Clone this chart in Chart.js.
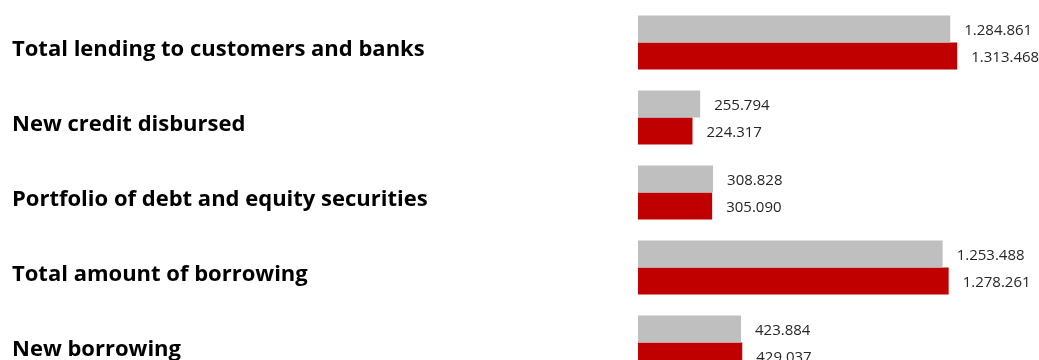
<!DOCTYPE html>
<html>
<head>
<meta charset="utf-8">
<script src="https://cdn.jsdelivr.net/npm/chart.js@4.4.1/dist/chart.umd.min.js"></script>
<style>
  html, body { margin: 0; padding: 0; background: #fff; overflow: hidden; }
  #wrap { position: relative; width: 1039px; height: 380px; }
</style>
</head>
<body>
<div id="wrap"><canvas id="kpi-chart"></canvas></div>
<script>
const categories = [
    'Total lending to customers and banks',
    'New credit disbursed',
    'Portfolio of debt and equity securities',
    'Total amount of borrowing',
    'New borrowing'
];
const previousYear = [1284861, 255794, 308828, 1253488, 423884];
const currentYear = [1313468, 224317, 305090, 1278261, 429037];

// european style thousands separator
const fmt = v => v.toString().replace(/\B(?=(\d{3})+(?!\d))/g, '.');

const valueLabels = {
    id: 'valueLabels',
    afterDatasetsDraw(chart) {
        const ctx = chart.ctx;
        ctx.save();
        ctx.font = '15px "Open Sans"';
        ctx.fillStyle = '#262626';
        ctx.textAlign = 'left';
        ctx.textBaseline = 'middle';
        chart.data.datasets.forEach((ds, i) => {
            chart.getDatasetMeta(i).data.forEach((bar, j) => {
                ctx.fillText(fmt(ds.data[j]), bar.x + 14, bar.y + 2);
            });
        });
        ctx.restore();
    }
};

const ctx = document.getElementById('kpi-chart');

new Chart(ctx, {
    type: 'bar',
    data: {
        labels: categories,
        datasets: [{
            label: 'Previous',
            data: previousYear,
            backgroundColor: '#BFBFBF',
            barPercentage: 1,
            categoryPercentage: 0.72
        }, {
            label: 'Current',
            data: currentYear,
            backgroundColor: '#C00000',
            barPercentage: 1,
            categoryPercentage: 0.72
        }]
    },
    options: {
        indexAxis: 'y',
        responsive: true,
        maintainAspectRatio: false,
        animation: false,
        layout: {
            padding: { top: 5, right: 0, bottom: 0, left: 12 }
        },
        plugins: {
            legend: { display: false },
            tooltip: { enabled: false }
        },
        scales: {
            x: {
                display: false,
                min: 0,
                max: 1650000
            },
            y: {
                grid: { display: false, drawTicks: false },
                border: { display: false },
                afterFit(scale) {
                    scale.width = 626;
                    scale.paddingTop = 0;
                    scale.paddingBottom = 0;
                },
                ticks: {
                    crossAlign: 'far',
                    labelOffset: 7,
                    padding: 0,
                    color: '#000',
                    font: { size: 22, weight: 'bold', family: 'Open Sans' }
                }
            }
        }
    },
    plugins: [valueLabels]
});
</script>
</body>
</html>
